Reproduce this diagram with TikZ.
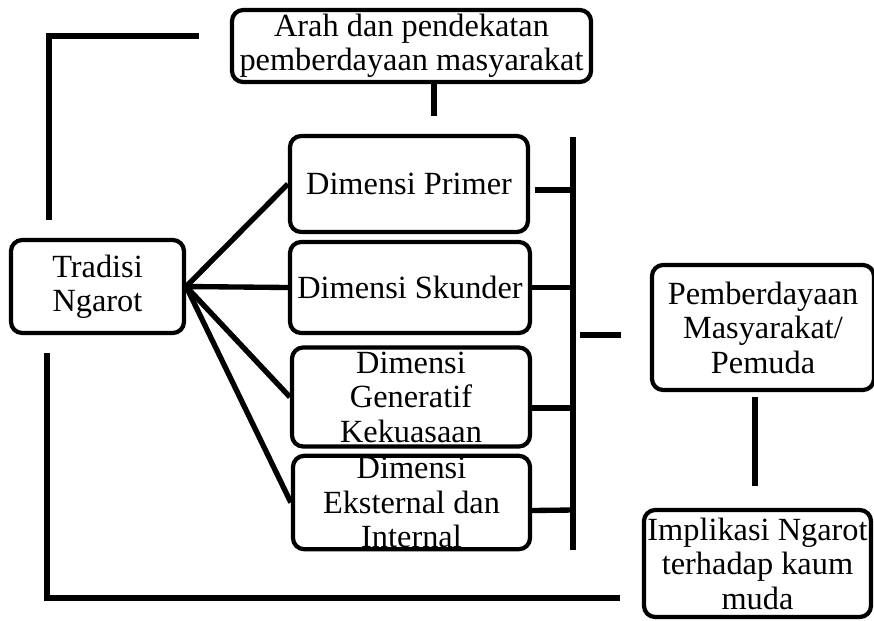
\documentclass[tikz,border=0pt]{standalone}
\usepackage{fontspec}
\setmainfont{Liberation Serif}
\usetikzlibrary{calc}

\tikzset{
	kotak/.style={draw,line width=3pt,rounded corners=8pt,align=center,inner sep=1pt,fill=white},
	garis/.style={line width=3.8pt},
}

\begin{document}
\begin{tikzpicture}[x=0.025cm,y=-0.025cm,font=\fontsize{23}{24.5}\selectfont]
\useasboundingbox (0,0) rectangle (874,620);
		\node[kotak,minimum width=8.975cm,minimum height=1.8cm] (arah) at (411.5,46) {Arah dan pendekatan\\pemberdayaan masyarakat};
		\node[kotak,minimum width=4.325cm,minimum height=2.325cm] (tradisi) at (97.5,286.5) {Tradisi\\Ngarot};
		\node[kotak,minimum width=5.95cm,minimum height=2.4cm] (primer) at (409,184) {Dimensi Primer};
		\node[kotak,minimum width=6cm,minimum height=2.275cm] (skunder) at (410,287.5) {Dimensi Skunder};
		\node[kotak,minimum width=5.95cm,minimum height=2.475cm] (generatif) at (411,397) {Dimensi\\Generatif\\Kekuasaan};
		\node[kotak,minimum width=5.925cm,minimum height=2.325cm] (eksternal) at (411.5,502.5) {Dimensi\\Eksternal dan\\Internal};
		\node[kotak,minimum width=5.55cm,minimum height=3.125cm] (pemberdayaan) at (763,327.5) {Pemberdayaan\\Masyarakat/\\Pemuda};
		\node[kotak,minimum width=5.675cm,minimum height=2.675cm] (implikasi) at (757.5,563.5) {Implikasi Ngarot\\terhadap kaum\\muda};
		\coordinate (P) at (434,116);
		\coordinate (Q) at (199,36);
		\coordinate (R) at (49,36);
		\coordinate (S) at (49,220);
		\coordinate (T) at (47,353);
		\coordinate (U) at (47,598);
		\coordinate (V) at (620,598);
		\coordinate (W) at (573,137);
		\coordinate (X) at (573,550);
		\coordinate (Y) at (580,335);
		\coordinate (Z) at (621,335);
		\coordinate (M) at (755,397);
		\coordinate (N) at (755,486);
		\coordinate (F) at (tradisi.east);
		\draw[garis] (arah.south -| P) -- (P);
		\draw[garis] (Q) -- (R) -- (S);
		\draw[garis] (T) -- (U) -- (V);
		\draw[garis] (W) -- (X);
		\draw[garis] (Y) -- (Z);
		\draw[garis] (M) -- (N);
		\draw[garis] ($(primer.east)+(5,6)$) -- (W |- 0,190);
		\draw[garis] (skunder.east) -- (W |- skunder.east);
		\draw[garis] ($(generatif.east)+(0,11)$) -- (W |- 0,408);
		\draw[garis] ($(eksternal.east)+(0,8)$) -- (W |- 0,510);
		%\draw from the fan point
		\draw[garis] (F) -- (primer.west);
		\draw[garis] (F) -- (skunder.west);
		\draw[garis] (F) -- (generatif.west);
		\draw[garis] (F) -- (eksternal.west);
\end{tikzpicture}
\end{document}
